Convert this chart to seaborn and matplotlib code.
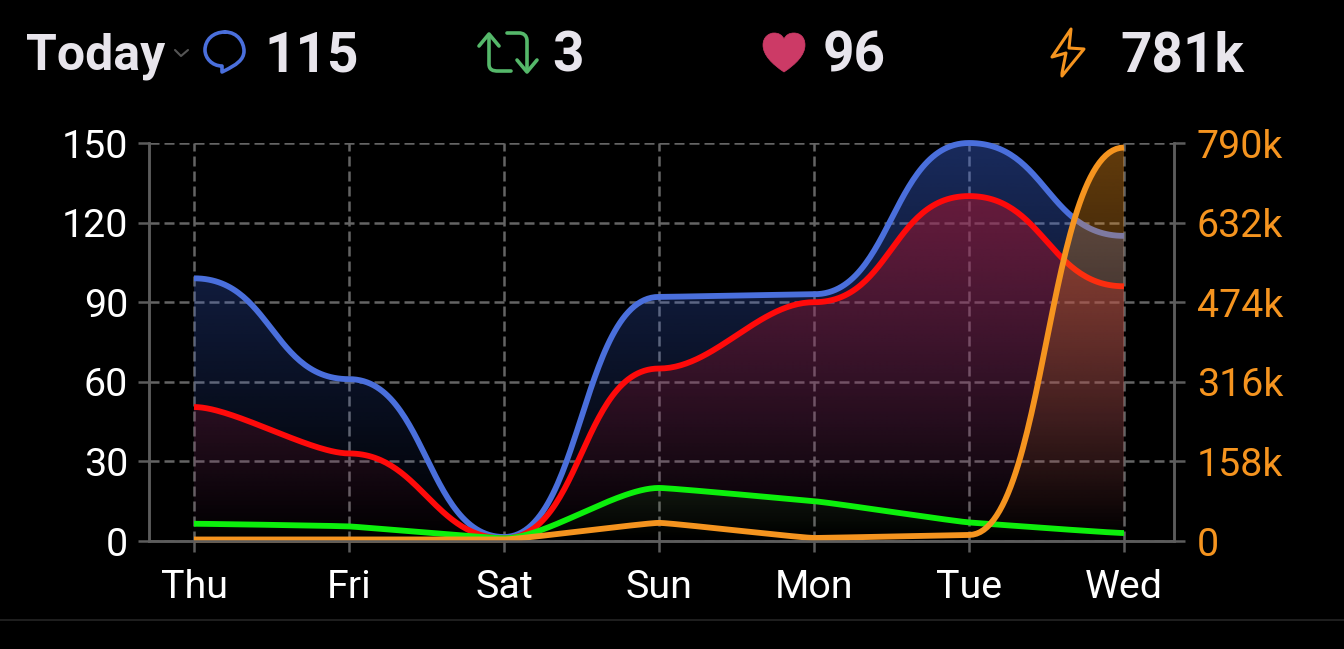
import numpy as np
import pandas as pd
import seaborn as sns
import matplotlib
matplotlib.use("Agg")
import matplotlib.pyplot as plt
from matplotlib.path import Path
from matplotlib.patches import PathPatch
from matplotlib.lines import Line2D
from matplotlib.transforms import Affine2D

days = ["Thu", "Fri", "Sat", "Sun", "Mon", "Tue", "Wed"]
replies = [99, 61, 1.5, 92, 93, 150, 115]
likes = [50.5, 33, 1, 65, 90, 130, 96]
retweets = [6.5, 5.5, 1, 20, 15, 7, 3]
impressions = [3000, 3000, 3000, 36000, 6000, 12000, 781000]

left_ticks = [0, 30, 60, 90, 120, 150]
right_ticks = [0, 158000, 316000, 474000, 632000, 790000]
right_labels = ["0", "158k", "316k", "474k", "632k", "790k"]

BLUE = "#4a6fdc"
RED = "#ff0a0a"
GREEN = "#0cf00c"
ORANGE = "#f5941f"
WIDTH, HEIGHT = 1344, 649
PLOT_L, PLOT_R, PLOT_T, PLOT_B = 149, 1174, 143, 541
DAY_W = 155.0


def smooth_curve(values, y_max, samples=60):
    """Bezier smoothing: tangents flatten on steep runs and at turning points."""
    y = np.asarray(values, float) * (PLOT_B - PLOT_T) / y_max
    n = len(y)
    s = np.diff(y) / DAY_W
    m = np.zeros(n)
    for i in range(1, n - 1):
        if s[i - 1] * s[i] > 0:
            avg = 0.5 * (s[i - 1] + s[i])
            m[i] = avg * np.exp(-(avg / 0.2) ** 2)
    xs, ys = [], []
    t = np.linspace(0, 1, samples)[:, None]
    for i in range(n - 1):
        # handles lengthen with the height of the segment, so gentle runs stay straight
        h = np.clip(0.83 * abs(y[i + 1] - y[i]), 0.08 * DAY_W, 0.5 * DAY_W)
        p0 = np.array([i * DAY_W, y[i]])
        p3 = np.array([(i + 1) * DAY_W, y[i + 1]])
        p1 = p0 + [h, m[i] * h]
        p2 = p3 - [h, m[i + 1] * h]
        b = ((1 - t) ** 3) * p0 + 3 * ((1 - t) ** 2) * t * p1 + 3 * (1 - t) * t**2 * p2 + t**3 * p3
        xs.append(b[:, 0])
        ys.append(b[:, 1])
    return np.concatenate(xs) / DAY_W, np.concatenate(ys) * y_max / (PLOT_B - PLOT_T)


def draw_series(ax, values, y_max, color, fill_color, alpha, z):
    x, y = smooth_curve(values, y_max)
    top = max(values)
    rgba = np.zeros((256, 2, 4))
    rgba[..., :3] = matplotlib.colors.to_rgb(fill_color)
    rgba[..., 3] = np.linspace(alpha, 0, 256)[:, None]
    img = ax.imshow(rgba, extent=(0, len(values) - 1, 0, top), origin="upper",
                    aspect="auto", interpolation="bilinear", zorder=z)
    verts = np.column_stack([np.r_[x[0], x, x[-1]], np.r_[0, y, 0]])
    img.set_clip_path(Path(verts), ax.transData)
    frame = pd.DataFrame({"x": x, "y": y})
    sns.lineplot(data=frame, x="x", y="y", ax=ax, color=color, linewidth=4.2,
                 estimator=None, sort=False, legend=False, zorder=z + 0.01,
                 clip_on=False, solid_capstyle="butt")


sns.set_theme(style="dark")
plt.rcParams["font.family"] = ["Roboto", "DejaVu Sans"]
plt.rcParams["axes.facecolor"] = "black"
plt.rcParams["figure.facecolor"] = "black"

fig = plt.figure(figsize=(WIDTH / 100, HEIGHT / 100), dpi=100)
ax = fig.add_axes([PLOT_L / WIDTH, 1 - PLOT_B / HEIGHT,
                   (PLOT_R - PLOT_L) / WIDTH, (PLOT_B - PLOT_T) / HEIGHT])
ax2 = ax.twinx()
ax2.patch.set_visible(False)
AXIS = "#5c5c5c"
GRID = "#646464"

draw_series(ax, replies, 150, BLUE, "#3f6be8", 0.40, 2)
draw_series(ax, likes, 150, RED, "#b81228", 0.50, 2.1)
draw_series(ax, retweets, 150, GREEN, "#22cc22", 0.10, 2.2)
draw_series(ax2, impressions, 790000, ORANGE, "#f5941f", 0.40, 2.3)

xlim = ((PLOT_L - 194) / DAY_W, (PLOT_R - 194) / DAY_W)
ax.set_xlim(xlim)
ax.set_ylim(0, 150)
ax2.set_ylim(0, 790000)
ax.set_xticks(range(len(days)), days)
ax.set_yticks(left_ticks)
ax2.set_yticks(right_ticks, right_labels)
ax.set_xlabel("")
ax.set_ylabel("")
ax2.set_ylabel("")

ax.set_axisbelow("line")
ax.grid(True, color=GRID, linewidth=1.8, linestyle=(0, (4, 2)))
ax2.grid(False)
ax.tick_params(axis="x", colors="white", labelsize=28.4, length=8, width=1.8,
               color=AXIS, pad=12, bottom=True)
ax.tick_params(axis="y", colors="white", labelsize=28.4, length=8, width=1.8,
               color=AXIS, pad=7, left=True)
ax2.tick_params(axis="y", colors=ORANGE, labelsize=28.4, length=8, width=1.8,
                color=AXIS, pad=8.5, right=True)
for axis in (ax, ax2):
    for name, spine in axis.spines.items():
        spine.set_visible(name != "top")
        spine.set_color(AXIS)
        spine.set_linewidth(1.8)

# Header row, laid out in pixel units
px = Affine2D().scale(1 / WIDTH, -1 / HEIGHT).translate(0, 1) + fig.transFigure


def header(x, s, size=39.5, y=71):
    fig.text(x, y, s, transform=px, color="#e8e5ec", fontsize=size,
             fontweight="bold", ha="left", va="baseline")


def icon(verts, codes=None, color="white", lw=2.6, fill=False):
    path = Path(verts, codes)
    fig.add_artist(PathPatch(path, transform=px, facecolor=color if fill else "none",
                             edgecolor=color, linewidth=lw, capstyle="round",
                             joinstyle="round"))


header(26, "Today", size=36, y=70)
header(264, str(replies[-1]))
header(552, str(retweets[-1]))
header(823, str(likes[-1]))
header(1120, f"{impressions[-1] // 1000}k")

M, L, C4, Z = Path.MOVETO, Path.LINETO, Path.CURVE4, Path.CLOSEPOLY

# chevron
icon([(175, 50), (181, 56), (188, 50)], [M, L, L], color="#555555", lw=1.5)

# speech bubble
icon([(225, 32), (238, 32), (244, 43), (244, 51), (244, 60), (236, 65), (224, 71),
      (222, 72), (222, 66), (222, 66), (212, 66), (205, 58), (205, 50),
      (205, 40), (213, 32), (225, 32)],
     [M, C4, C4, C4, C4, C4, C4, L, L, L, C4, C4, C4, C4, C4, C4], color=BLUE)

# retweet arrows
RT = "#55b86a"
icon([(489, 37), (489, 64), (489, 70), (493, 71), (498, 71), (511, 71)],
     [M, L, C4, C4, C4, L], color=RT)
icon([(479, 46), (489, 34), (499, 46)], [M, L, L], color=RT)
icon([(527, 70), (527, 41), (527, 35), (523, 33), (519, 33), (507, 33)],
     [M, L, C4, C4, C4, L], color=RT)
icon([(517, 60), (527, 72), (537, 60)], [M, L, L], color=RT)

# heart
HEART = "#cc3a66"
icon([(784, 72), (772, 64), (763, 55), (763, 45), (763, 37), (769, 33), (774, 33),
      (779, 33), (782, 35), (784, 39), (786, 35), (789, 33), (794, 33),
      (800, 33), (805, 37), (805, 45), (805, 55), (796, 64), (784, 72), (784, 72)],
     [M] + [C4] * 18 + [Z], color=HEART, lw=0.5, fill=True)

# lightning bolt
icon([(1062, 73), (1066, 53), (1052, 57), (1071, 29), (1069, 48), (1084, 49), (1062, 76), (1062, 73)],
     [M, L, L, L, L, L, L, Z], color=ORANGE, lw=2.2)

# bottom separator
fig.add_artist(Line2D([0, WIDTH], [620, 620], transform=px, color="#1f1f1f", linewidth=1.4))

fig.savefig("out.png", dpi=100, facecolor="black")
